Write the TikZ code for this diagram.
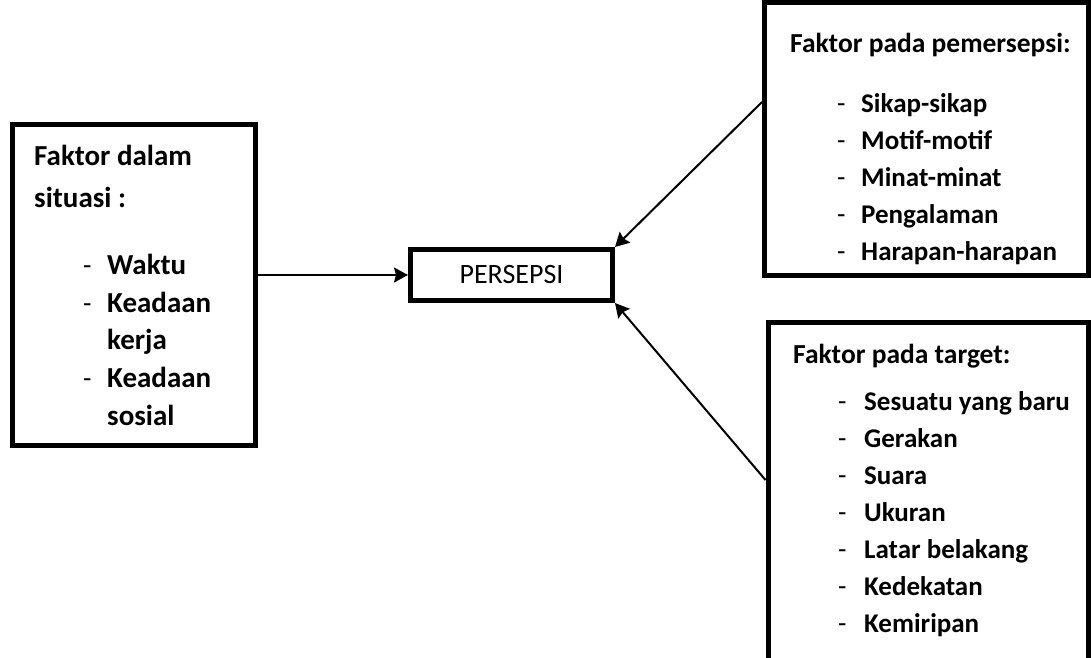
\documentclass[tikz,border=0pt]{standalone}
\usepackage{fontspec}
\setmainfont{Carlito}
\usetikzlibrary{calc,arrows.meta}

\tikzset{
  box/.style={draw, line width=5pt, inner sep=0pt},
  txt/.style={anchor=base west, inner sep=0pt, font=\bfseries\fontsize{29}{30}\selectfont},
  txtr/.style={anchor=base west, inner sep=0pt, font=\bfseries\fontsize{27}{30}\selectfont},
  bullet/.style={anchor=base west, inner sep=0pt, font=\fontsize{27.5}{30}\selectfont},
  arr/.style={line width=2pt, -{Stealth[length=14pt,width=15pt,inset=2pt]}}
}

\begin{document}
\begin{tikzpicture}[x=1pt, y=-1pt]
\useasboundingbox (0,0) rectangle (1091,657);

% boxes
\node[box, minimum width=243.5pt, minimum height=320.5pt] (situasi) at (133.75,284.75) {};
\node[box, minimum width=202pt, minimum height=51pt, font=\fontsize{28}{30}\selectfont] (persepsi) at (511.5,275) {PERSEPSI};
\node[box, minimum width=323.5pt, minimum height=272.5pt] (pemersepsi) at (926.25,138.75) {};
\node[box, minimum width=320pt, minimum height=380pt] (target) at (928,512.5) {};

% left box
\node[txt] (s1) at (34,165) {Faktor dalam};
\node[txt] (s2) at (34,207) {situasi :};
\node[bullet] (sd1) at (83,274) {-};
\node[txt] (si1) at (107,274) {Waktu};
\node[bullet] (sd2) at (83,312) {-};
\node[txt] (si2) at (107,312) {Keadaan};
\node[txt] (si3) at (107,349.5) {kerja};
\node[bullet] (sd3) at (83,387.5) {-};
\node[txt] (si4) at (107,387.5) {Keadaan};
\node[txt] (si5) at (107,425) {sosial};

% top right box
\node[txtr, font=\bfseries\fontsize{27.5}{30}\selectfont] (p0) at (790,52) {Faktor pada pemersepsi:};
\foreach \item [count=\i] in {Sikap-sikap, Motif-motif, Minat-minat, Pengalaman, Harapan-harapan}{
  \node[bullet] (pd\i) at (837,75+37*\i) {-};
  \node[txtr] (p\i) at (861,75+37*\i) {\item};
}

% bottom right box
\node[txtr, font=\bfseries\fontsize{27.5}{30}\selectfont] (t0) at (793,363) {Faktor pada target:};
\foreach \item [count=\i] in {Sesuatu yang baru, Gerakan, Suara, Ukuran, Latar belakang, Kedekatan, Kemiripan}{
  \node[bullet] (td\i) at (838,373+37*\i) {-};
  \node[txtr] (t\i) at (864,373+37*\i) {\item};
}

% arrows
\coordinate (P) at ($(pemersepsi.north west)+(0,102)$);
\coordinate (T) at ($(target.north west)+(0,160)$);
\draw[arr] (situasi.east |- persepsi.west) -- (persepsi.west);
\draw[arr] (P) -- (persepsi.north east);
\draw[arr] (T) -- (persepsi.south east);
\end{tikzpicture}
\end{document}
